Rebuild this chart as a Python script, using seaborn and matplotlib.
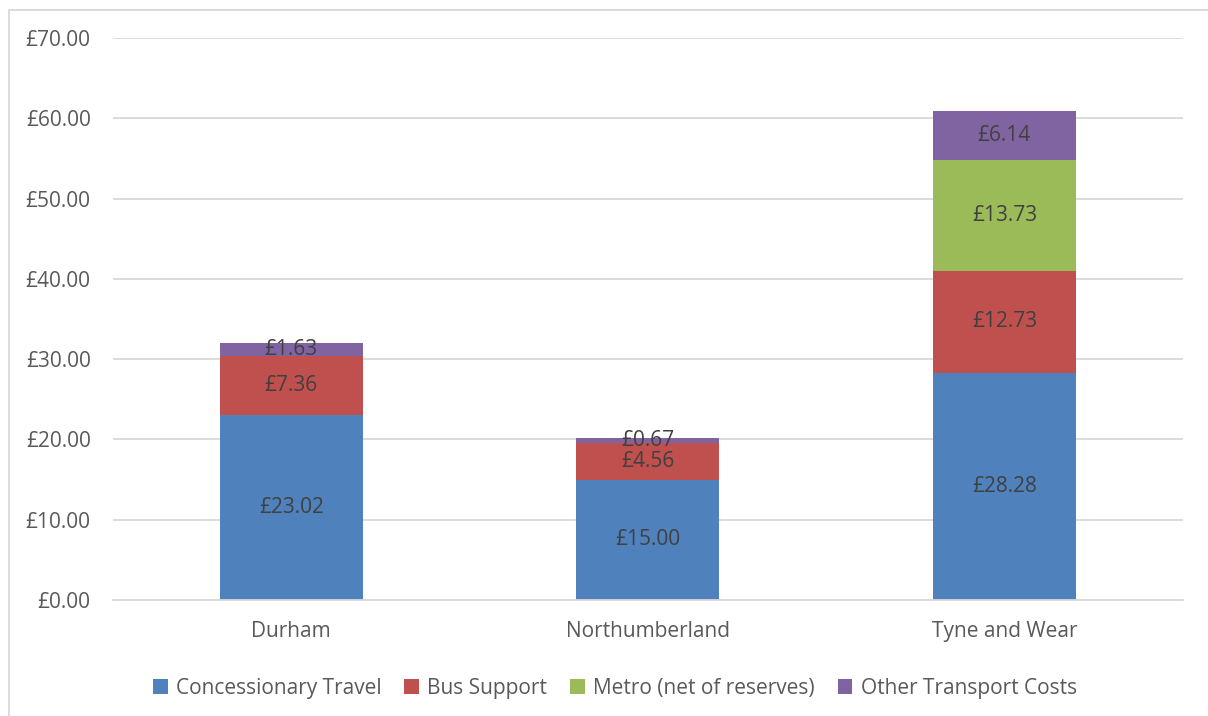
import pandas as pd
import matplotlib.pyplot as plt
import seaborn as sns
import numpy as np
from matplotlib.patches import Rectangle

regions = ['Durham', 'Northumberland', 'Tyne and Wear']
concessionary = [23.02, 15.00, 28.28]
bus_support = [7.36, 4.56, 12.73]
metro = [0.0, 0.0, 13.73]
other = [1.63, 0.67, 6.14]

series = ['Concessionary Travel', 'Bus Support', 'Metro (net of reserves)', 'Other Transport Costs']
values = [concessionary, bus_support, metro, other]
colors = ['#4F81BD', '#C0504D', '#9BBB59', '#8064A2']

sns.set_style('white')
plt.rcParams['font.family'] = ['Open Sans', 'DejaVu Sans']

fig = plt.figure(figsize=(12.08, 7.16), dpi=100)
ax = fig.add_axes([0.0935, 0.162, 0.8855, 0.785])

bottom = np.zeros(len(regions))
for name, vals, col in zip(series, values, colors):
    df = pd.DataFrame({'region': regions, 'value': vals})
    sns.barplot(data=df, x='region', y='value', color=col, width=0.4,
                bottom=bottom, ax=ax, label=name, saturation=1, linewidth=0)
    cont = ax.containers[-1]
    labels = [f'£{v:.2f}' if v > 0 else '' for v in vals]
    ax.bar_label(cont, labels=labels, label_type='center', fontsize=15, color='#404040')
    bottom = bottom + np.array(vals)

ax.set_ylim(0, 70)
ax.set_yticks(np.arange(0, 71, 10))
ax.set_yticklabels([f'£{v:.2f}' for v in np.arange(0, 71, 10)])
ax.set_xlim(-0.5, 2.5)
ax.yaxis.grid(True, color='#D9D9D9', linewidth=1.3)
ax.set_axisbelow(True)
for s in ['top', 'right', 'left']:
    ax.spines[s].set_visible(False)
ax.spines['bottom'].set_color('#D9D9D9')
ax.spines['bottom'].set_linewidth(1.3)
ax.tick_params(axis='both', length=0, labelsize=15, labelcolor='#595959')
ax.tick_params(axis='x', pad=15)
ax.tick_params(axis='y', pad=16)
ax.set_xlabel('')
ax.set_ylabel('')

handles, labs = ax.get_legend_handles_labels()
fig.legend(handles, labs, loc='center', bbox_to_anchor=(0.509, 0.039), ncol=4,
           frameon=False, fontsize=15, labelcolor='#595959', handlelength=0.7,
           handleheight=0.7, handletextpad=0.4, columnspacing=1.1)
if ax.get_legend():
    ax.get_legend().remove()

fig.patches.append(Rectangle((9 / 1208, -0.01), 1.02, 1 - 10 / 716 + 0.01,
                             transform=fig.transFigure, fill=False,
                             edgecolor='#D9D9D9', linewidth=1.3))

fig.savefig('out.png', dpi=100)
